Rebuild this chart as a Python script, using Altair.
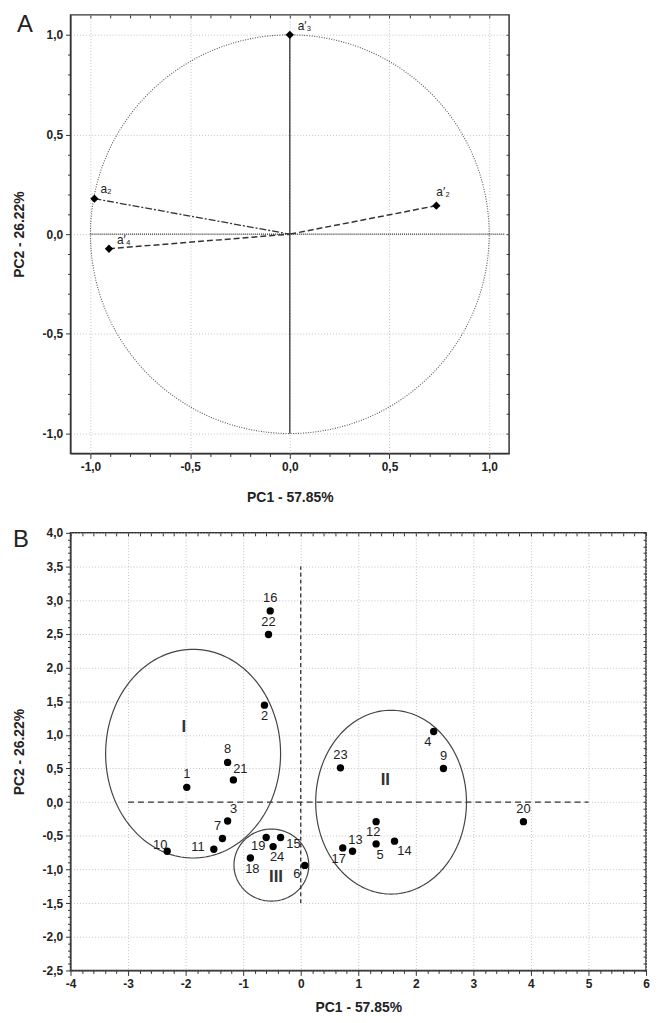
import altair as alt
import numpy as np
import pandas as pd

# ---------------- Panel A: variable loadings ----------------
var_names = ["a₂", "a′₃", "a′₂", "a′₄"]
var_pc1 = [-0.98, 0.0, 0.735, -0.907]
var_pc2 = [0.178, 1.0, 0.143, -0.073]
var_style = ["dashdot", "solid", "dash", "dash"]

# ---------------- Panel B: sample scores ----------------
sample_ids = list(range(1, 25))
score_pc1 = [-1.98, -0.63, -1.27, 2.31, 1.31, 0.07, -1.36, -1.27, 2.48, -2.32,
             -1.51, 1.31, 0.90, 1.63, -0.35, -0.53, 0.73, -0.875, -0.60, 3.87,
             -1.17, -0.56, 0.69, -0.48]
score_pc2 = [0.22, 1.44, -0.28, 1.05, -0.62, -0.94, -0.54, 0.59, 0.50, -0.73,
             -0.70, -0.29, -0.73, -0.58, -0.525, 2.84, -0.68, -0.83, -0.525, -0.29,
             0.33, 2.49, 0.51, -0.66]

# cluster ellipses
group_names = ["I", "II", "III"]
group_cx = [-1.87, 1.57, -0.51]
group_cy = [0.72, 0.0, -0.935]
group_rx = [1.52, 1.31, 0.65]
group_ry = [1.55, 1.365, 0.535]
group_lx = [-2.03, 1.47, -0.43]
group_ly = [1.12, 0.33, -1.11]

# label placement (pixel offsets from point) - style only
label_offset = {1: (0, -13), 2: (0, 11), 3: (6, -12), 4: (-6, 11), 5: (4, 11),
                6: (-8, 9), 7: (-5, -13), 8: (0, -13), 9: (0, -13), 10: (-7, -6),
                11: (-16, -2), 12: (-3, 10), 13: (3, -11), 14: (10, 10), 15: (13, 7),
                16: (0, -13), 17: (-4, 11), 18: (2, 11), 19: (-8, 9), 20: (0, -13),
                21: (7, -11), 22: (0, -13), 23: (0, -13), 24: (4, 11)}
var_label_offset = [(6, -10), (8, -9), (0, -14), (8, -9)]

FONT = "Liberation Sans"
INK = "#222222"


def ellipse_df(names, cx, cy, rx, ry, n=181):
    rows = []
    t = np.linspace(0, 2 * np.pi, n)
    for g, a, b, c, d in zip(names, cx, cy, rx, ry):
        for i, tt in enumerate(t):
            rows.append({"g": g, "i": i, "x": a + c * np.cos(tt), "y": b + d * np.sin(tt)})
    return pd.DataFrame(rows)


def fmt_dec(d):
    return ("replace(replace(format(datum.value, '." + str(d) + "f'), '.', ','), '\u2212', '-')")


def main_axis(orient, title, minor_vals, major_test, dec, title_pad):
    return alt.Axis(
        orient=orient, title=title, values=minor_vals, grid=True,
        gridOpacity={"condition": {"test": major_test, "value": 1}, "value": 0},
        tickSize={"condition": {"test": major_test, "value": 5}, "value": 3},
        labelExpr="(" + major_test + ") ? " + fmt_dec(dec) + " : ''",
        labelOverlap=False, labelFlush=False, labelPadding=3,
        titlePadding=title_pad,
    )


def mirror_axis(orient, minor_vals):
    return alt.Axis(orient=orient, title=None, values=minor_vals, grid=False,
                    labels=False, domain=False, tickSize=3, offset=-3,
                    minExtent=0, maxExtent=0)


def panel(width, height, xdom, ydom, xminor, yminor, xmajor, ymajor, xdec, ydec,
          layers_fn, letter, letter_xy, xtitle_pad):
    sx = alt.Scale(domain=xdom, nice=False, zero=False)
    sy = alt.Scale(domain=ydom, nice=False, zero=False)
    ax = main_axis("bottom", "PC1 - 57.85%", xminor, xmajor, xdec, xtitle_pad)
    ay = main_axis("left", "PC2 - 26.22%", yminor, ymajor, ydec, 16)

    def X(f):
        return alt.X(f, type="quantitative", scale=sx, axis=ax)

    def Y(f):
        return alt.Y(f, type="quantitative", scale=sy, axis=ay)

    layers = layers_fn(X, Y)
    letter_layer = alt.Chart(pd.DataFrame({"t": [letter]})).mark_text(
        font=FONT, fontSize=24, color=INK, align="center", baseline="middle"
    ).encode(x=alt.value(letter_xy[0]), y=alt.value(letter_xy[1]), text="t:N")
    inner = alt.layer(*layers, letter_layer)

    mirror = alt.Chart(pd.DataFrame({"x": [xdom[0]], "y": [ydom[0]]})).mark_point(opacity=0).encode(
        x=alt.X("x:Q", scale=sx, axis=mirror_axis("top", xminor)),
        y=alt.Y("y:Q", scale=sy, axis=mirror_axis("right", yminor)),
    )
    return alt.layer(inner, mirror).resolve_axis(x="independent", y="independent").properties(
        width=width, height=height)


# ---------------- Panel A layers ----------------
def layers_a(X, Y):
    circ = ellipse_df(["c"], [0.0], [0.0], [1.0], [1.0], n=241)
    c_line = alt.Chart(circ).mark_line(color="#555555", strokeWidth=1.1, strokeDash=[1, 1.5]).encode(
        x=X("x"), y=Y("y"), detail="g:N", order="i:Q")
    ref = pd.DataFrame({"x": [-1.0], "x2": [1.08], "y": [0.0]})
    h_line = alt.Chart(ref).mark_rule(color="#333333", strokeWidth=1.2, strokeDash=[1, 1]).encode(
        x=X("x"), x2="x2", y=Y("y"))
    vref = pd.DataFrame({"x": [0.0], "y": [-1.0], "y2": [1.0]})
    v_line = alt.Chart(vref).mark_rule(color="#333333", strokeWidth=1.3).encode(
        x=X("x"), y=Y("y"), y2="y2")

    dv = pd.DataFrame({"name": var_names, "x": var_pc1, "y": var_pc2, "style": var_style,
                       "ox": [0.0] * 4, "oy": [0.0] * 4,
                       "ldx": [o[0] for o in var_label_offset],
                       "ldy": [o[1] for o in var_label_offset]})
    vec_dd = alt.Chart(dv[dv["style"] == "dashdot"]).mark_rule(
        color="#333333", strokeWidth=1.3, strokeDash=[7, 2, 2, 2]).encode(
        x=X("x"), y=Y("y"), x2="ox", y2="oy")
    vec_d = alt.Chart(dv[dv["style"] == "dash"]).mark_rule(
        color="#333333", strokeWidth=1.5, strokeDash=[6, 3]).encode(
        x=X("x"), y=Y("y"), x2="ox", y2="oy")
    pts = alt.Chart(dv).mark_point(shape="diamond", filled=True, size=70, color="black", opacity=1).encode(
        x=X("x"), y=Y("y"))
    labs = alt.Chart(dv).mark_text(font=FONT, fontSize=12, color=INK, align="left",
                                   dx=alt.expr("datum.ldx"), dy=alt.expr("datum.ldy")).encode(
        x=X("x"), y=Y("y"), text="name:N")
    return [c_line, h_line, v_line, vec_dd, vec_d, pts, labs]


# ---------------- Panel B layers ----------------
def layers_b(X, Y):
    ell = ellipse_df(group_names, group_cx, group_cy, group_rx, group_ry)
    e_line = alt.Chart(ell).mark_line(color="#444444", strokeWidth=1.2).encode(
        x=X("x"), y=Y("y"), detail="g:N", order="i:Q")
    href = pd.DataFrame({"x": [-3.0], "x2": [5.0], "y": [0.0]})
    h_line = alt.Chart(href).mark_rule(color="#333333", strokeWidth=1.3, strokeDash=[6, 4]).encode(
        x=X("x"), x2="x2", y=Y("y"))
    vref = pd.DataFrame({"x": [0.0], "y": [-1.5], "y2": [3.5]})
    v_line = alt.Chart(vref).mark_rule(color="#333333", strokeWidth=1.3, strokeDash=[4, 3]).encode(
        x=X("x"), y=Y("y"), y2="y2")

    ds = pd.DataFrame({"id": [str(s) for s in sample_ids], "x": score_pc1, "y": score_pc2,
                       "ldx": [label_offset[s][0] for s in sample_ids],
                       "ldy": [label_offset[s][1] for s in sample_ids]})
    pts = alt.Chart(ds).mark_circle(size=55, color="black", opacity=1).encode(x=X("x"), y=Y("y"))
    labs = alt.Chart(ds).mark_text(font=FONT, fontSize=13, color=INK, align="center",
                                   baseline="middle",
                                   dx=alt.expr("datum.ldx"), dy=alt.expr("datum.ldy")).encode(
        x=X("x"), y=Y("y"), text="id:N")
    dg = pd.DataFrame({"name": group_names, "x": group_lx, "y": group_ly})
    glabs = alt.Chart(dg).mark_text(font=FONT, fontSize=17, fontWeight="bold", color="#333333",
                                    align="center", baseline="middle").encode(
        x=X("x"), y=Y("y"), text="name:N")
    return [e_line, h_line, v_line, pts, labs, glabs]


a_minor = [round(v, 2) for v in np.arange(-1.0, 1.0001, 0.1)]
b_xminor = [round(v, 2) for v in np.arange(-4.0, 6.0001, 0.2)]
b_yminor = [round(v, 2) for v in np.arange(-2.5, 4.0001, 0.1)]
major_half = "abs(datum.value*2 - round(datum.value*2)) < 0.001"
major_int = "abs(datum.value - round(datum.value)) < 0.001"

chart_a = panel(442, 442, [-1.1, 1.1], [-1.1, 1.1], a_minor, a_minor, major_half, major_half,
                1, 1, layers_a, "A", (-46, 10), 18)
chart_b = panel(580, 441, [-4, 6], [-2.5, 4.0], b_xminor, b_yminor, major_int, major_half,
                0, 1, layers_b, "B", (-50, 7), 11)

chart = alt.vconcat(chart_a, chart_b, spacing=21).properties(
    padding={"left": 3, "top": 0, "right": 0, "bottom": 0}
).configure_view(
    stroke="#333333", strokeWidth=1.5
).configure_axis(
    labelFont=FONT, labelFontSize=12, labelFontWeight="bold", labelColor=INK,
    titleFont=FONT, titleFontSize=14, titleFontWeight="bold", titleColor=INK,
    domainColor="#333333", tickColor="#333333", gridColor="#c4c4c4", gridDash=[1, 2],
    gridWidth=1,
)

chart.save("out.html", embed_options={"renderer": "svg", "actions": False})
